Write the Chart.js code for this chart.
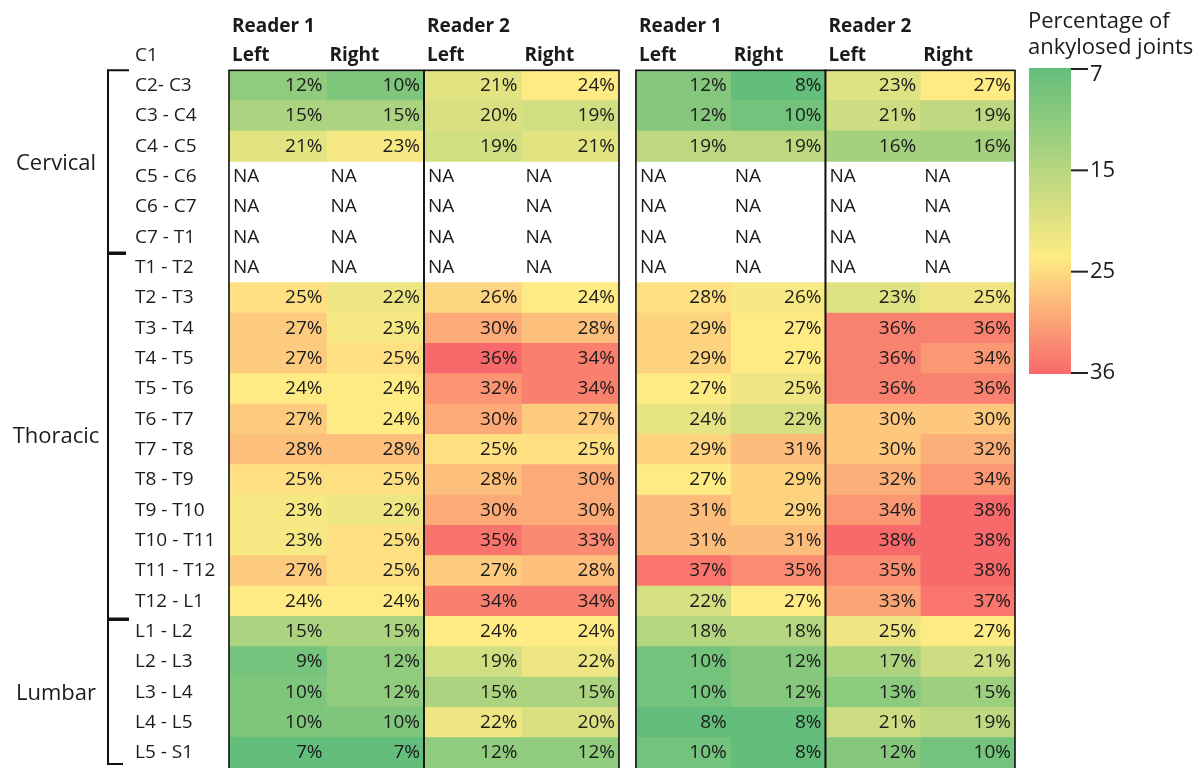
<!DOCTYPE html>
<html>
<head>
<meta charset="utf-8">
<script src="https://cdn.jsdelivr.net/npm/chart.js@4"></script>
<style>
  html, body { margin: 0; padding: 0; background: #fff; }
  #wrap { width: 1203px; height: 768px; position: relative; }
</style>
</head>
<body>
<div id="wrap"><canvas id="heat"></canvas></div>
<script>
// row labels (first row is the header row of the table)
const rowLabels = ['C1', 'C2- C3', 'C3 - C4', 'C4 - C5', 'C5 - C6', 'C6 - C7', 'C7 - T1',
  'T1 - T2', 'T2 - T3', 'T3 - T4', 'T4 - T5', 'T5 - T6', 'T6 - T7', 'T7 - T8', 'T8 - T9',
  'T9 - T10', 'T10 - T11', 'T11 - T12', 'T12 - L1', 'L1 - L2', 'L2 - L3', 'L3 - L4',
  'L4 - L5', 'L5 - S1'];

const readerLabels = ['Reader 1', 'Reader 2'];
const sideLabels = ['Left', 'Right'];

const regionNames = ['Cervical', 'Thoracic', 'Lumbar'];
const regionFirstRow = [1, 7, 19];
const regionLastRow = [6, 18, 23];

const colorbarTicks = [7, 15, 25, 36];
const colorbarTitle = ['Percentage of', 'ankylosed joints'];

// first table, null = NA
const p1Reader1Left  = [12, 15, 21, null, null, null, null, 25, 27, 27, 24, 27, 28, 25, 23, 23, 27, 24, 15, 9, 10, 10, 7];
const p1Reader1Right = [10, 15, 23, null, null, null, null, 22, 23, 25, 24, 24, 28, 25, 22, 25, 25, 24, 15, 12, 12, 10, 7];
const p1Reader2Left  = [21, 20, 19, null, null, null, null, 26, 30, 36, 32, 30, 25, 28, 30, 35, 27, 34, 24, 19, 15, 22, 12];
const p1Reader2Right = [24, 19, 21, null, null, null, null, 24, 28, 34, 34, 27, 25, 30, 30, 33, 28, 34, 24, 22, 15, 20, 12];

// second table
const p2Reader1Left  = [12, 12, 19, null, null, null, null, 28, 29, 29, 27, 24, 29, 27, 31, 31, 37, 22, 18, 10, 10, 8, 10];
const p2Reader1Right = [8, 10, 19, null, null, null, null, 26, 27, 27, 25, 22, 31, 29, 29, 31, 35, 27, 18, 12, 12, 8, 8];
const p2Reader2Left  = [23, 21, 16, null, null, null, null, 23, 36, 36, 36, 30, 30, 32, 34, 38, 35, 33, 25, 17, 13, 21, 12];
const p2Reader2Right = [27, 19, 16, null, null, null, null, 25, 36, 34, 36, 30, 32, 34, 38, 38, 38, 37, 27, 21, 15, 19, 10];

const columns = [p1Reader1Left, p1Reader1Right, p1Reader2Left, p1Reader2Right,
  p2Reader1Left, p2Reader1Right, p2Reader2Left, p2Reader2Right];

// column layout on the x scale
const panelGap = 0.174;
const panel2Width = 0.972;
const colLeft = (i) => (i < 4 ? i : 4 + panelGap + (i - 4) * panel2Width);
const colRight = (i) => colLeft(i) + (i < 4 ? 1 : panel2Width);

// excel style 3 colour scale, one per table
const GREEN = [99, 190, 123];
const YELLOW = [255, 235, 132];
const RED = [248, 105, 107];

const mix = (a, b, t) => `rgb(${a.map((c, k) => Math.round(c + (b[k] - c) * t)).join(',')})`;

const panelRange = (cols) => {
  const vals = cols.flat().filter((v) => v != null).sort((a, b) => a - b);
  const pos = 0.5 * (vals.length - 1);
  const lo = Math.floor(pos);
  const mid = vals[lo] + (vals[Math.ceil(pos)] - vals[lo]) * (pos - lo);
  return { min: vals[0], mid, max: vals[vals.length - 1] };
};

const ranges = [panelRange(columns.slice(0, 4)), panelRange(columns.slice(4))];

const cellColor = (v, r) => {
  if (v <= r.mid) return mix(GREEN, YELLOW, (v - r.min) / (r.mid - r.min));
  return mix(YELLOW, RED, (v - r.mid) / (r.max - r.mid));
};

const datasets = columns.map((col, i) => ({
  label: `col${i}`,
  data: [null, ...col.map((v) => (v == null ? null : [colLeft(i), colRight(i)]))],
  backgroundColor: ['rgba(0,0,0,0)', ...col.map((v) => (v == null ? 'rgba(0,0,0,0)' : cellColor(v, ranges[i < 4 ? 0 : 1])))],
  borderWidth: 0,
  grouped: false,
  barPercentage: 1,
  categoryPercentage: 1,
}));

const FONT = '"Open Sans", "DejaVu Sans", sans-serif';
const INK = '#1b1b1b';

const tableDecor = {
  id: 'tableDecor',
  afterDatasetsDraw(chart) {
    const { ctx, chartArea } = chart;
    const x = chart.scales.x;
    const y = chart.scales.y;
    const rowH = y.getPixelForValue(1) - y.getPixelForValue(0);
    const headY = y.getPixelForValue(0);
    const tableTop = headY + rowH / 2;

    ctx.save();
    ctx.fillStyle = INK;
    ctx.textBaseline = 'middle';

    columns.forEach((col, i) => {
      const left = x.getPixelForValue(colLeft(i));
      const right = x.getPixelForValue(colRight(i));
      ctx.font = `19px ${FONT}`;
      col.forEach((v, r) => {
        const yy = y.getPixelForValue(r + 1);
        if (v == null) {
          ctx.textAlign = 'left';
          ctx.fillText('NA', left + 4, yy);
        } else {
          ctx.textAlign = 'right';
          ctx.fillText(v + '%', right - 4, yy);
        }
      });
      ctx.font = `bold 19px ${FONT}`;
      ctx.textAlign = 'left';
      ctx.fillText(sideLabels[i % 2], left + 3, headY);
      if (i % 2 === 0) ctx.fillText(readerLabels[(i / 2) % 2], left + 3, headY - 29);
    });

    // reader boxes
    ctx.strokeStyle = '#111';
    ctx.lineWidth = 1.6;
    for (let g = 0; g < 4; g++) {
      const l = x.getPixelForValue(colLeft(g * 2));
      const r = x.getPixelForValue(colRight(g * 2 + 1));
      ctx.strokeRect(l, tableTop, r - l, chartArea.bottom - tableTop + 2);
    }

    // region brackets
    const bx = 108;
    const boundary = (row) => y.getPixelForValue(row) + rowH / 2;
    ctx.lineWidth = 2;
    ctx.beginPath();
    ctx.moveTo(bx, tableTop);
    ctx.lineTo(bx, 764);
    ctx.moveTo(bx - 1, tableTop);
    ctx.lineTo(129, tableTop);
    ctx.moveTo(bx - 1, 764);
    ctx.lineTo(123, 764);
    ctx.stroke();
    ctx.lineWidth = 3.5;
    ctx.beginPath();
    ctx.moveTo(bx, boundary(regionLastRow[0]) + 1);
    ctx.lineTo(126, boundary(regionLastRow[0]) + 1);
    ctx.moveTo(bx, boundary(regionLastRow[1]) + 3);
    ctx.lineTo(129, boundary(regionLastRow[1]) + 3);
    ctx.stroke();

    ctx.font = `22px ${FONT}`;
    ctx.textAlign = 'center';
    regionNames.forEach((name, k) => {
      const yy = (y.getPixelForValue(regionFirstRow[k]) + y.getPixelForValue(regionLastRow[k])) / 2 + 2;
      ctx.fillText(name, 56, yy);
    });

    // colour bar
    const cbL = 1029, cbR = 1071, cbT = 68, cbB = 374;
    const grad = ctx.createLinearGradient(0, cbT, 0, cbB);
    grad.addColorStop(0, mix(GREEN, GREEN, 0));
    grad.addColorStop(0.62, mix(YELLOW, YELLOW, 0));
    grad.addColorStop(1, mix(RED, RED, 0));
    ctx.fillStyle = grad;
    ctx.fillRect(cbL, cbT, cbR - cbL, cbB - cbT);

    ctx.fillStyle = INK;
    ctx.strokeStyle = '#222';
    ctx.lineWidth = 2;
    ctx.font = `22px ${FONT}`;
    ctx.textAlign = 'left';
    colorbarTicks.forEach((t, k) => {
      const ty = cbT + 1 + (k / (colorbarTicks.length - 1)) * (cbB - cbT - 2);
      ctx.beginPath();
      ctx.moveTo(cbR, ty);
      ctx.lineTo(cbR + 17, ty);
      ctx.stroke();
      ctx.fillText(String(t), cbR + 19, k === 0 ? ty + 6 : ty);
    });
    ctx.fillText(colorbarTitle[0], cbL - 1, 22);
    ctx.fillText(colorbarTitle[1], cbL - 1, 48);

    ctx.restore();
  },
};

new Chart(document.getElementById('heat'), {
  type: 'bar',
  data: { labels: rowLabels, datasets },
  options: {
    indexAxis: 'y',
    responsive: true,
    maintainAspectRatio: false,
    animation: false,
    layout: { padding: { left: 135, right: 188, top: 40, bottom: 0 } },
    plugins: { legend: { display: false }, tooltip: { enabled: false } },
    scales: {
      x: { type: 'linear', min: 0, max: colRight(7), display: false },
      y: {
        type: 'category',
        grid: { display: false },
        border: { display: false },
        ticks: { color: INK, font: { family: FONT, size: 19 }, crossAlign: 'far', padding: 0 },
        afterFit: (s) => {
          s.width = 94;
          s.paddingTop = 0;
          s.paddingBottom = 0;
        },
      },
    },
  },
  plugins: [tableDecor],
});
</script>
</body>
</html>
